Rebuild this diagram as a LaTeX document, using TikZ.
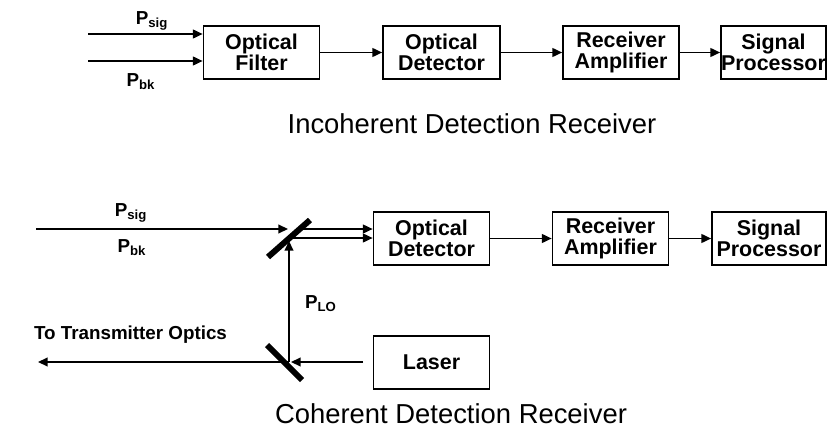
\documentclass[tikz,border=0pt]{standalone}
\usepackage{fontspec}
\setmainfont{Liberation Sans}
\usepackage{tikz}
\usetikzlibrary{shapes,arrows,arrows.meta,positioning,fit}

\begin{document}
\begin{tikzpicture}[x=0.02cm, y=-0.02cm]
		\tikzstyle{Block}	= [rectangle, draw, line width=1pt, minimum width=2.32cm, minimum height=1.06cm, inner sep=0pt, align=center, font=\fontsize{12.2}{12}\selectfont\bfseries]
		\tikzstyle{Label}	= [inner sep=0pt, font=\fontsize{10.7}{12}\selectfont\bfseries]
		\tikzstyle{Title}	= [inner sep=0pt, font=\fontsize{15.6}{18}\selectfont]
		\tikzstyle{Beam}	= [line width=0.85pt, -{Triangle[length=5.5pt,width=5pt]}]
		\tikzstyle{Mirror}	= [line width=3.4pt]

		\useasboundingbox (0,0) rectangle (827,429);

		% incoherent receiver
		\node (filter) at (261.5,52.5) [Block] {Optical\\Filter};
		\node (det1) at (441.5,52.5) [Block, minimum width=2.34cm] {Optical\\Detector};
		\node (amp1) at (621,52.5) [Block] {Receiver\\Amplifier};
		\node (proc1) at (773.5,52.5) [Block, minimum width=2.1cm] {Signal\\Processor};

		\coordinate (sig1) at (88,34);
		\coordinate (bk1) at (88,61);
		\node (Psig1) at (152,21) [Label] {P\textsubscript{sig}};
		\node (Pbk1) at (141,82) [Label] {P\textsubscript{bk}};

		\draw (sig1) to (sig1 -| filter.west) [Beam];
		\draw (bk1) to (bk1 -| filter.west) [Beam];
		\draw (filter) to (det1) [Beam];
		\draw (det1) to (amp1) [Beam];
		\draw (amp1) to (proc1) [Beam];

		\node (inc) at (472,124) [Title] {Incoherent Detection Receiver};

		% coherent receiver
		\node (det2) at (431.5,238.5) [Block] {Optical\\Detector};
		\node (amp2) at (610.5,238.5) [Block] {Receiver\\Amplifier};
		\node (proc2) at (769,238.5) [Block, minimum width=2.28cm] {Signal\\Processor};
		\node (laser) at (431.5,362.5) [Block] {Laser};

		\coordinate (sig2) at (36,229);
		\coordinate (hit) at (288,229);
		\coordinate (out1) at (296,229);
		\coordinate (out2) at (290,238);
		\coordinate (lo) at (289,362);
		\coordinate (lotip) at (289,241);
		\coordinate (las) at (363,362);
		\coordinate (lohit) at (291,362);
		\coordinate (tx) at (38,362);
		\coordinate (m1a) at (268,257);
		\coordinate (m1b) at (310,220);
		\coordinate (m2a) at (267,345);
		\coordinate (m2b) at (302,380);

		\node (Psig2) at (131,213) [Label] {P\textsubscript{sig}};
		\node (Pbk2) at (132,248) [Label] {P\textsubscript{bk}};
		\node (PLO) at (321,304) [Label] {P\textsubscript{LO}};
		\node (txt) at (130.5,335) [Label] {To Transmitter Optics};

		\draw (sig2) to (hit) [Beam];
		\draw (out1) to (out1 -| det2.west) [Beam];
		\draw (out2) to (out2 -| det2.west) [Beam];
		\draw (det2) to (amp2) [Beam];
		\draw (amp2) to (proc2) [Beam];
		\draw (lo) to (lotip) [Beam];
		\draw (las) to (lohit) [Beam];
		\draw (lo) to (tx) [Beam];

		\draw (m1a) to (m1b) [Mirror];
		\draw (m2a) to (m2b) [Mirror];

		\node (coh) at (451,414) [Title] {Coherent Detection Receiver};
	\end{tikzpicture}
\end{document}
